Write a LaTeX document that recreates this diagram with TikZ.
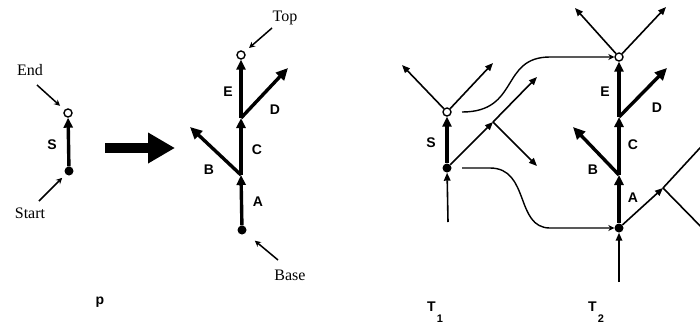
\documentclass[tikz,border=0pt]{standalone}
\usepackage{fontspec}
\setmainfont{Liberation Serif}
\newfontfamily\lblsans{Liberation Sans}
\usetikzlibrary{arrows.meta}

\begin{document}
\begin{tikzpicture}[x=1pt, y=-1pt,
  opendot/.style={circle, draw, line width=1.4pt, fill=white, inner sep=0pt, minimum size=8pt},
  fulldot/.style={circle, fill, inner sep=0pt, minimum size=9pt},
  seg/.style={line width=3.4pt, -{Triangle[length=10pt,width=9pt]}},
  branch/.style={line width=3.4pt, -{Triangle[length=12pt,width=11pt]}},
  thin/.style={line width=1.6pt, -{Triangle[length=8pt,width=6.5pt]}},
  ptr/.style={line width=1.5pt, -{Stealth[length=6pt,width=6pt]}},
  bigarrow/.style={line width=10pt, -{Triangle[length=27pt,width=29pt]}},
  lbl/.style={font=\lblsans\bfseries\fontsize{14}{14}\selectfont, inner sep=0pt},
  txt/.style={font=\fontsize{16}{16}\selectfont, inner sep=0pt}]
\clip (0,0) rectangle (700,325);

% single step p
\node[opendot] (sEnd) at (68,113) {};
\node[fulldot] (sStart) at (69,171) {};
\draw[seg] (sStart) -- (sEnd);
\node[lbl] (sLbl) at (52,145) {S};
\node[txt] (lEnd) at (30,70) {End};
\node[txt] (lStart) at (30,213) {Start};
\coordinate (endTail) at (37,85);
\coordinate (startTail) at (39,201);
\draw[ptr, shorten >=6pt] (endTail) -- (sEnd);
\draw[ptr, shorten >=5pt] (startTail) -- (sStart);
\node[lbl] (pLbl) at (100,302) {p};

% big arrow
\coordinate (bigFrom) at (105,148);
\coordinate (bigTo) at (175,148);
\draw[bigarrow] (bigFrom) -- (bigTo);

% expanded tree
\node[fulldot] (mBase) at (242,230) {};
\coordinate (mJB) at (241,175);
\coordinate (mJD) at (241,118);
\node[opendot] (mTop) at (241,55) {};
\coordinate (mB) at (190,127);
\coordinate (mD) at (288,68);
\draw[seg] (mBase) -- (mJB);
\draw[seg] (mJB) -- (mJD);
\draw[seg] (mJD) -- (mTop);
\draw[branch] (mJB) -- (mB);
\draw[branch] (mJD) -- (mD);
\node[lbl] at (258,202) {A};
\node[lbl] at (209,170) {B};
\node[lbl] at (257,150) {C};
\node[lbl] at (275,110) {D};
\node[lbl] at (228,92) {E};
\node[txt] (lTop) at (285,18) {Top};
\node[txt] (lBase) at (290,275) {Base};
\coordinate (topTail) at (272,28);
\coordinate (baseTail) at (278,260);
\draw[ptr, shorten >=6pt] (topTail) -- (mTop);
\draw[ptr, shorten >=12pt] (baseTail) -- (mBase);

% T1
\node[opendot] (aEnd) at (447,112) {};
\node[fulldot] (aStart) at (447,168) {};
\coordinate (aIn) at (448,222);
\coordinate (aUL) at (402,65);
\coordinate (aUR) at (493,63);
\coordinate (aJ) at (493,122);
\coordinate (aOutU) at (537,77);
\coordinate (aOutD) at (537,166);
\draw[seg] (aStart) -- (aEnd);
\draw[thin] (aIn) -- (aStart);
\draw[thin] (aEnd) -- (aUL);
\draw[thin] (aEnd) -- (aUR);
\draw[thin] (aStart) -- (aJ);
\draw[thin] (aJ) -- (aOutU);
\draw[thin] (aJ) -- (aOutD);
\node[lbl] at (431,143) {S};
\node[lbl, anchor=base west] (t1Lbl) at (427,311) {T\kern1pt\raisebox{-11pt}{\fontsize{11}{11}\selectfont 1}};

% T2
\node[fulldot] (bBase) at (619,228) {};
\coordinate (bJB) at (619,175);
\coordinate (bJD) at (619,117);
\node[opendot] (bTop) at (619,57) {};
\coordinate (bB) at (573,127);
\coordinate (bD) at (667,68);
\coordinate (bIn) at (619,282);
\coordinate (bUL) at (575,8);
\coordinate (bUR) at (666,7);
\coordinate (bJ) at (663,188);
\coordinate (bOutU) at (711,136);
\coordinate (bOutD) at (711,237);
\draw[seg] (bBase) -- (bJB);
\draw[seg] (bJB) -- (bJD);
\draw[seg] (bJD) -- (bTop);
\draw[branch] (bJB) -- (bB);
\draw[branch] (bJD) -- (bD);
\draw[thin] (bIn) -- (bBase);
\draw[thin] (bTop) -- (bUL);
\draw[thin] (bTop) -- (bUR);
\draw[thin] (bBase) -- (bJ);
\draw[thin] (bJ) -- (bOutU);
\draw[thin] (bJ) -- (bOutD);
\node[lbl] at (633,198) {A};
\node[lbl] at (593,170) {B};
\node[lbl] at (633,145) {C};
\node[lbl] at (657,108) {D};
\node[lbl] at (605,92) {E};
\node[lbl, anchor=base west] (t2Lbl) at (588,311) {T\kern1pt\raisebox{-11pt}{\fontsize{11}{11}\selectfont 2}};

% gluing
\draw[ptr, line width=1.4pt] (462,112) .. controls (520,112) and (500,57) .. (550,57) -- (bTop);
\draw[ptr, line width=1.4pt] (462,168) -- (490,168) .. controls (530,168) and (515,228) .. (550,228) -- (bBase);
\end{tikzpicture}
\end{document}
